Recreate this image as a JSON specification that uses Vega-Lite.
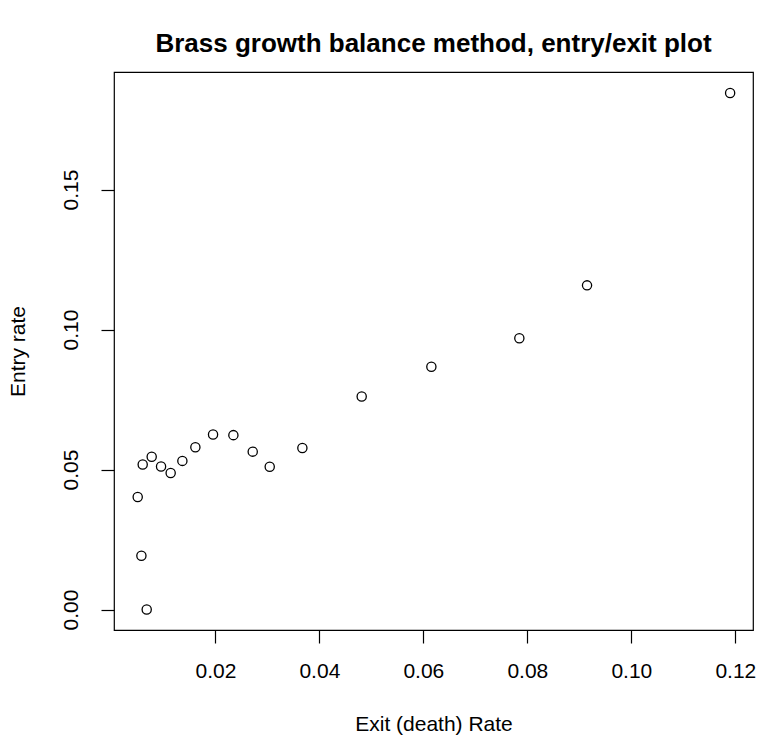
{
  "$schema": "https://vega.github.io/schema/vega-lite/v6.json",
  "width": 639,
  "height": 558,
  "autosize": {"type": "none"},
  "padding": {"left": 114, "top": 72, "right": 8, "bottom": 110},
  "background": "white",
  "title": {
    "text": "Brass growth balance method, entry/exit plot",
    "font": "Liberation Sans",
    "fontSize": 26,
    "fontWeight": "bold",
    "color": "black",
    "anchor": "middle",
    "offset": 15
  },
  "config": {
    "view": {"stroke": "black", "strokeWidth": 1.2},
    "axis": {
      "domain": false,
      "grid": false,
      "tickColor": "black",
      "tickWidth": 1.2,
      "tickSize": 13,
      "labelFont": "Liberation Sans",
      "labelFontSize": 21,
      "labelColor": "black",
      "titleFont": "Liberation Sans",
      "titleFontSize": 21,
      "titleFontWeight": "normal",
      "titleColor": "black"
    }
  },
  "data": {
    "values": [
      {"exit": 0.00602, "entry": 0.0518},
      {"exit": 0.00775, "entry": 0.0546},
      {"exit": 0.00955, "entry": 0.0511},
      {"exit": 0.0114, "entry": 0.0488},
      {"exit": 0.01365, "entry": 0.0531},
      {"exit": 0.01615, "entry": 0.0580},
      {"exit": 0.01955, "entry": 0.0625},
      {"exit": 0.02346, "entry": 0.0623},
      {"exit": 0.02718, "entry": 0.0564},
      {"exit": 0.03045, "entry": 0.0510},
      {"exit": 0.03673, "entry": 0.0577},
      {"exit": 0.00506, "entry": 0.0402},
      {"exit": 0.00577, "entry": 0.0192},
      {"exit": 0.00679, "entry": 0.0000},
      {"exit": 0.04814, "entry": 0.0761},
      {"exit": 0.06154, "entry": 0.0867},
      {"exit": 0.07846, "entry": 0.0969},
      {"exit": 0.09148, "entry": 0.1158},
      {"exit": 0.1190, "entry": 0.1845}
    ]
  },
  "mark": {"type": "point", "shape": "circle", "filled": false, "stroke": "black", "strokeWidth": 1.3, "size": 85, "opacity": 1},
  "encoding": {
    "x": {
      "field": "exit",
      "type": "quantitative",
      "scale": {"domain": [0.0005, 0.1234], "nice": false, "zero": false},
      "axis": {
        "title": "Exit (death) Rate",
        "values": [0.02, 0.04, 0.06, 0.08, 0.10, 0.12],
        "format": ".2f",
        "labelPadding": 17,
        "titlePadding": 32,
        "labelFlush": false,
        "labelOverlap": false
      }
    },
    "y": {
      "field": "entry",
      "type": "quantitative",
      "scale": {"domain": [-0.0073, 0.192], "nice": false, "zero": false},
      "axis": {
        "title": "Entry rate",
        "values": [0, 0.05, 0.10, 0.15],
        "format": ".2f",
        "labelAngle": -90,
        "labelAlign": "center",
        "labelBaseline": "bottom",
        "labelPadding": 20,
        "titlePadding": 32,
        "labelFlush": false,
        "labelOverlap": false
      }
    }
  }
}
